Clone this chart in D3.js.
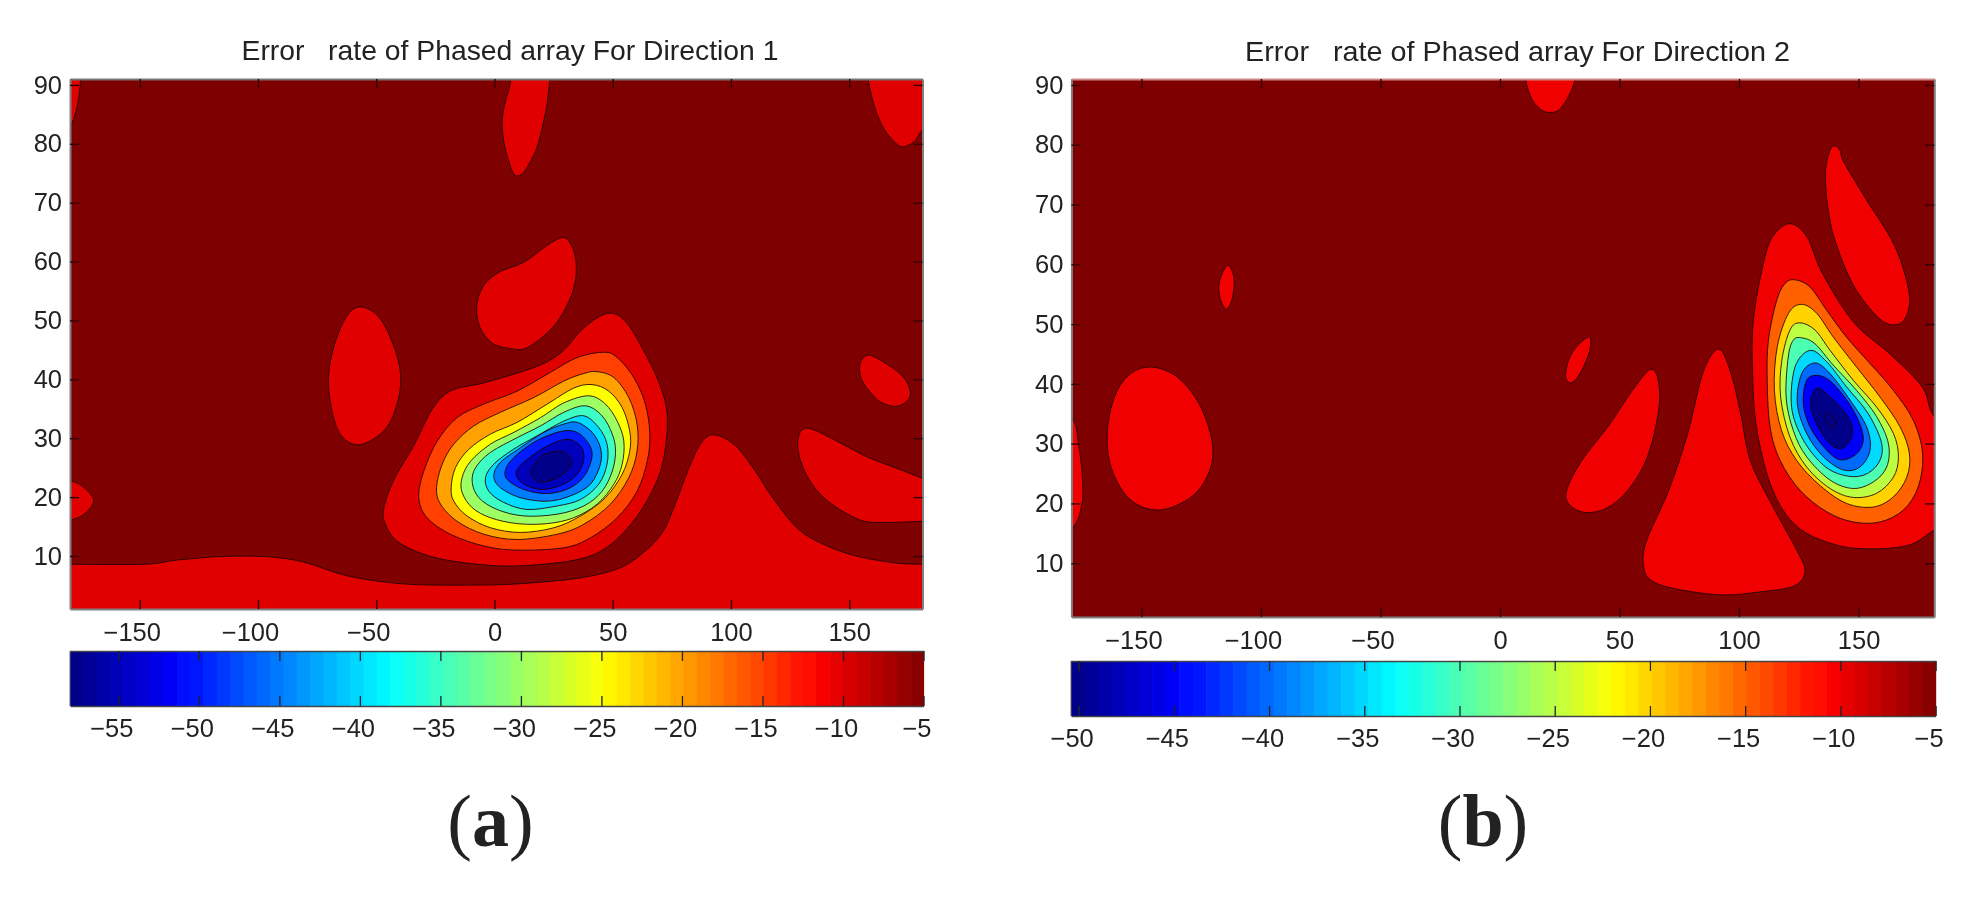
<!DOCTYPE html>
<html><head><meta charset="utf-8">
<script src="https://cdn.jsdelivr.net/npm/d3@7/dist/d3.min.js"></script>
<style>html,body{margin:0;background:#fff}svg{display:block}text{font-family:"Liberation Sans",Arial,sans-serif;fill:#222}</style>
</head><body><svg id="c" width="1972" height="899"></svg>
<script>
const xTicks=[-150,-100,-50,0,50,100,150];
const yTicks=[10,20,30,40,50,60,70,80,90];
const barTicksA=[-55,-50,-45,-40,-35,-30,-25,-20,-15,-10,-5];
const barTicksB=[-50,-45,-40,-35,-30,-25,-20,-15,-10,-5];
const titleA="Error   rate of Phased array For Direction 1";
const titleB="Error   rate of Phased array For Direction 2";
// Panel (a): contour outlines as [azimuth, elevation]
const aBottom=[[-179.4,8.6],[-147.6,8.6],[-134.3,9.3],[-115.6,9.9],[-96.9,9.9],[-80.9,9],[-64.9,6.9],[-48.9,5.7],[-30.2,5.1],[-0.8,5.1],[17.9,5.5],[36.6,6.3],[52.6,7.9],[63.3,10.7],[71.3,14.2],[76.6,19],[83.3,26],[88.6,29.8],[94,30.5],[102,28.7],[110,24.6],[118,19.7],[128.7,14.5],[140.7,11.7],[154,9.9],[170,8.8],[181,8.6],[195,8.6],[195,-15],[-195,-15],[-195,8.6]];
const aTopLeft=[[-175,95],[-175,90.9],[-176.5,86.3],[-179.4,82.8],[-186,78],[-195,78],[-195,95]];
const aTopMid=[[7,95],[6.7,90.4],[4.5,87],[3.2,83.5],[4.5,79.3],[7.7,75.2],[9.9,74.6],[13,75.5],[17.9,79.3],[21,84.2],[22.7,88.4],[22.7,95]];
const aTopRight=[[157,95],[158,90.9],[160.7,86.3],[164.7,82.5],[170,80],[173,79.5],[177.5,80.4],[181,82.5],[190,88],[190,95]];
const aCenter=[[29.9,64],[33.9,61.3],[34.4,57.2],[31.2,53],[24.6,48.8],[13.9,45.4],[7.2,45.2],[-0.8,46.1],[-6.1,48.8],[-7.5,52.3],[-4.8,55.8],[1.9,58.2],[12.5,59.9],[23.2,63]];
const aLeftOval=[[-56.3,52.3],[-48.9,50.6],[-43,46.1],[-39.8,41.2],[-40.8,36.4],[-46.2,31.5],[-56.9,28.9],[-64.9,30.5],[-68.9,35],[-70.2,40.5],[-67.5,46.1],[-62.2,50.9]];
const aSmallRight=[[158,44.1],[164.7,42.9],[172.7,40.5],[175.9,37.7],[173.5,36],[169,35.4],[164,36],[160.7,37],[155.4,39.8],[154.6,42.6]];
const aRightWedge=[[132.7,31.7],[143.4,29.8],[156.7,27],[170,24.9],[181,23.2],[195,21],[195,15.9],[181,15.9],[164.7,15.7],[154,16.2],[140.7,19.4],[132.7,23.2],[128.7,27.3],[128.7,30.5]];
const aLeftEdge=[[-195,24],[-179.4,22.8],[-173,21.4],[-169.5,19.4],[-173,17.3],[-179.4,16.1],[-195,15]];
const aM10=[[47.8,51.2],[55.3,49.9],[63.3,44.7],[69.9,39.1],[73.1,33.6],[71.3,26],[65.9,20.4],[57.9,15.5],[47.3,11.4],[33.9,9.3],[8.5,8.3],[-11.5,8.8],[-27.5,10],[-40.8,12.4],[-46.2,15.5],[-46.7,18.3],[-42.2,23.2],[-34.2,28.7],[-26.2,35],[-18.2,38.1],[-3.5,39.5],[17.9,42.2],[28.6,44.7],[37.9,48.8]];
const aM15=[[46.2,44.6],[51.9,43.7],[58.9,40.3],[63.8,35.8],[65.7,30.7],[64.6,26.1],[60.3,21],[51.9,16.5],[40.6,13.1],[29.3,11.4],[9.6,11],[-4.5,11.7],[-18.6,13.7],[-28.5,16.5],[-32,19.9],[-29.9,24.4],[-24.2,29.5],[-15.8,33.5],[-4.5,35.8],[9.6,38],[23.7,41.2],[35,43.7]];
const aM20=[[43.4,41.3],[50.5,40.3],[56.8,36.9],[60.3,32.4],[60.3,27.8],[56.8,23.3],[49,18.8],[37.8,15.4],[26.5,13.7],[9.6,12.8],[-4.5,13.7],[-15.8,15.9],[-22.8,18.8],[-24.5,21.6],[-22.1,25.6],[-17.2,29],[-8.7,32.1],[2.5,34.4],[16.6,36.9],[29.3,39.7],[37.8,41]];
const aM25=[[41.3,39.1],[48.3,38],[54,35.2],[57.2,31.2],[57.2,27.8],[54,23.9],[46.9,19.9],[36.4,16.8],[25.1,14.8],[11,14],[-1.7,14.8],[-11.6,16.8],[-17.2,19.3],[-18.3,21.6],[-16.5,25],[-10.9,28.1],[-1.7,30.7],[9.6,32.7],[22.3,35.8],[33.5,38.5]];
const aM30=[[39.9,37.2],[46.9,35.8],[51.9,32.9],[54.7,29.5],[54,25.6],[50.5,22.2],[43.4,18.8],[33.5,16.5],[22.3,15.5],[9.6,15.5],[-1.7,16.5],[-9.4,18.2],[-13.7,20.8],[-13.7,23.3],[-10.1,26.1],[-1.7,29],[8.2,31],[19.5,33.5],[29.3,36]];
const aM35=[[38.5,35.5],[45.5,33.8],[49.8,30.7],[51.2,27.8],[49.8,24.4],[45.5,21],[37.8,18.5],[26.5,17.1],[12.4,16.8],[1.1,17.9],[-6.6,19.9],[-9.4,22.5],[-8,25],[-1.7,27.6],[9.6,30.1],[19.5,32.1],[29.3,34.4]];
const aM40=[[37.8,33.8],[44.1,31.8],[47.6,29],[47.6,25.6],[44.1,22.2],[36.4,19.6],[26.5,18.5],[13.8,17.9],[3.9,19.1],[-2.4,21],[-3.8,23.3],[-0.3,25.6],[7.9,28.1],[18,30.4],[29.3,32.9]];
const aM45=[[35,32.7],[41.3,31],[44.8,28.4],[44.8,25.6],[40.6,22.2],[32.1,20.2],[22.3,19.3],[11,19.9],[2.5,21.6],[-0.3,23.6],[2.5,25.9],[11,28.4],[20.9,31],[29.3,32.4]];
const aM50=[[33.5,31.2],[38.5,29.8],[41.3,27.3],[38.5,23.9],[32.1,21.6],[22.3,20.6],[12.4,21.3],[5.4,23],[4.7,24.7],[8.2,26.7],[16.6,29.3],[26.5,31]];
const aM55=[[30.7,29.8],[36.4,28.7],[37.8,26.4],[35,23.9],[29.3,22.2],[20.9,21.3],[13.8,21.9],[9.6,23.3],[9.6,24.7],[13.8,26.4],[22.3,28.7]];
const aM57=[[29.3,27.7],[32.4,26.4],[31.9,25],[26.5,23.3],[19.5,22.5],[15.9,23.6],[15.9,25],[20.2,27],[25.1,27.7]];
// Panel (b)
const bTop=[[10,95],[10.7,91],[13.1,87.8],[17,85.9],[21,85.4],[24.9,85.9],[28.8,88.2],[31.4,91],[32,95]];
const bSliver=[[-114,59.8],[-111.3,57.8],[-111.9,54.4],[-114.5,52.5],[-117.1,54.4],[-117.4,57.1]];
const bLeftOval=[[-145.4,42.8],[-134.9,41.1],[-125.8,36.6],[-120.5,30.5],[-121.3,25.7],[-128.4,21.3],[-142.3,18.9],[-154.6,20.6],[-162.4,25.7],[-164.3,31.8],[-161.1,38],[-154.6,41.7]];
const bLeftEdge=[[-195,40],[-179.5,34.6],[-176.3,29.8],[-174.7,24.3],[-175,19.6],[-179.5,15.5],[-195,10]];
const bSmall=[[37.5,47.8],[37.5,45.5],[34,42.1],[30.1,40.2],[27.5,41.1],[28.8,44.1],[32.7,46.5]];
const bMid=[[62.9,42.4],[66.3,40.4],[66.3,35.3],[61.6,27.7],[53.7,22.3],[44.5,19.2],[35.4,18.5],[28.8,19.9],[28,22.3],[34.1,27.1],[45.8,33.2],[55,38.7]];
const bTriangle=[[91.7,45.8],[96.9,41.4],[100.9,34.6],[104.8,27.1],[114,19.6],[124.4,12],[127.6,8.6],[123.1,6.2],[108.7,5.2],[93,4.7],[74.7,5.6],[64.2,6.9],[60.3,9],[61,13.4],[70.7,22.3],[78.6,31.8],[85.1,42.1]];
const bUpperRight=[[140.2,79.8],[142.3,79],[144,77],[153.3,70.8],[165,63.2],[171,55.7],[170.3,51.6],[165.8,49.9],[158.5,51],[148,56.4],[140.2,63.9],[137,70],[136.2,75.5],[138,79]];
const bM10=[[121.3,66.8],[128.4,64.6],[134.9,58.5],[148,50.3],[163.7,44.8],[176.8,39.4],[181.6,34.6],[195,30],[195,18],[181.6,15.5],[171.6,13.1],[155.9,12.4],[140.2,13.1],[124.4,16.1],[114,22.3],[107.4,32.5],[105.6,42.8],[106.1,51],[110,59.8],[114,64.6]];
const bM15=[[123.4,57.4],[129.7,56.2],[136.7,52.3],[145,47.8],[154.8,43.4],[164.6,38.9],[172.9,33.9],[176.8,28.3],[175,22.8],[168.8,18.9],[159,16.9],[147.8,16.9],[136.7,18.6],[125.5,22.2],[117.2,27.2],[113,32.8],[111.8,40.6],[112.3,47.3],[115.8,54],[119.3,56.8]];
const bM20=[[126.2,53.3],[132.5,51.8],[139.5,47.8],[149.2,42.8],[159,37.8],[167.4,32.8],[171.3,28.3],[170.2,24.4],[164.6,21.1],[156.2,19.4],[145,20],[133.9,23],[124.1,27.2],[117.8,32.2],[114.8,38.9],[116,46.2],[120.7,51.8]];
const bM25=[[125.5,50.2],[131.8,49],[138.1,45.6],[147.8,40.6],[157.6,36.1],[164.6,31.7],[166.7,27.8],[164.6,24.4],[157.6,21.7],[147.8,21],[138.1,22.5],[128.3,26.1],[121.3,31.1],[117.4,37.8],[117.9,43.9],[121.3,49]];
const bM30=[[126.2,47.7],[131.8,46.7],[139.5,43.1],[149.2,38.9],[157.6,34.5],[162.5,30],[161.8,26.1],[156.2,23.6],[147.8,22.5],[138.1,23.9],[128.3,27.8],[122.7,32.2],[119.7,37.8],[120.6,44.5],[122.7,47.3]];
const bM35=[[129.7,45.6],[136.7,43.7],[145,39.5],[154.1,35],[159.7,30],[158.3,26.7],[152,24.7],[143.7,24.7],[135.3,26.4],[126.9,30.6],[122,36.1],[123.4,42.8]];
const bM40=[[131.8,43.5],[138.1,41.7],[146.4,37.3],[153.4,32.8],[154.8,28.9],[150.6,26.1],[143.7,25.6],[135.3,27.8],[128.3,31.7],[124.4,36.7],[126.2,41.7]];
const bM45=[[133.2,41.4],[139.5,40],[147.8,35.6],[152,31.1],[149.2,28.3],[142.3,27.3],[136,29.2],[129.7,32.8],[126.9,36.7],[128.3,40.6]];
const bM50=[[133.9,39.2],[139.5,37.3],[145.7,34.5],[147.5,31.7],[144.4,29.5],[139.5,29.5],[133.9,32.2],[130,36.1],[131.1,38.7]];
const bInner=[[137.4,35.2],[140.2,34],[140.2,32.9],[138.4,32.8],[136.3,34.2]];

const contoursA=[[-10,aBottom],[-10,aTopLeft],[-10,aTopMid],[-10,aTopRight],[-10,aCenter],[-10,aLeftOval],[-10,aSmallRight],[-10,aRightWedge],[-10,aLeftEdge],[-10,aM10],[-15,aM15],[-20,aM20],[-25,aM25],[-30,aM30],[-35,aM35],[-40,aM40],[-45,aM45],[-50,aM50],[-55,aM55],[-57.5,aM57]];
const contoursB=[[-10,bTop],[-10,bSliver],[-10,bLeftOval],[-10,bLeftEdge],[-10,bSmall],[-10,bMid],[-10,bTriangle],[-10,bUpperRight],[-10,bM10],[-15,bM15],[-20,bM20],[-25,bM25],[-30,bM30],[-35,bM35],[-40,bM40],[-45,bM45],[-50,bM50],[-50,bInner]];

const jet=d3.scaleLinear().domain([0,.125,.375,.625,.875,1]).range(['#000080','#0000ff','#00ffff','#ffff00','#ff0000','#800000']);
const svg=d3.select('#c');
const defs=svg.append('defs');
defs.append('filter').attr('id','soft').attr('x','-5%').attr('y','-5%').attr('width','110%').attr('height','110%').append('feGaussianBlur').attr('stdDeviation',0.6);
const fmt=d=>String(d).replace('-','\u2212');
const FS='25.5px';

function panel(o){
  const x=d3.scaleLinear().domain(o.xDom).range([o.l,o.r]);
  const y=d3.scaleLinear().domain([1,91]).range([o.b,o.t]);
  const c=d=>jet((d-o.barMin)/(-5-o.barMin));
  const g=svg.append('g').attr('filter','url(#soft)');
  defs.append('clipPath').attr('id',o.id).append('rect').attr('x',o.l).attr('y',o.t).attr('width',o.r-o.l).attr('height',o.b-o.t);
  const plot=g.append('g').attr('clip-path',`url(#${o.id})`);
  plot.append('rect').attr('x',o.l).attr('y',o.t).attr('width',o.r-o.l).attr('height',o.b-o.t).attr('fill','#7f0000');
  const line=d3.line().x(d=>x(d[0])).y(d=>y(d[1])).curve(d3.curveCatmullRomClosed.alpha(0));
  plot.selectAll('path').data(o.contours).join('path').attr('d',d=>line(d[1])).attr('fill',d=>c(d[0])).attr('stroke','#200000').attr('stroke-opacity',.85).attr('stroke-width',1);
  // axes
  const style=s=>{s.selectAll('.domain').attr('stroke','#808080').attr('stroke-width',2);s.selectAll('.tick line').attr('stroke','#300').attr('stroke-width',1.4);s.selectAll('text').style('font-size',FS).attr('fill','#222');};
  g.append('g').attr('transform',`translate(0,${o.b})`).call(d3.axisBottom(x).tickValues(xTicks).tickSize(-9).tickSizeOuter(0).tickPadding(14).tickFormat(fmt)).call(style)
    .selectAll('text').attr('dx',d=>d<0?-8:0);
  g.append('g').attr('transform',`translate(0,${o.t})`).call(d3.axisTop(x).tickValues(xTicks).tickSize(-9).tickSizeOuter(0).tickFormat('')).call(style)
    .selectAll('.domain').attr('stroke',o.topLine);
  g.append('g').attr('transform',`translate(${o.l},0)`).call(d3.axisLeft(y).tickValues(yTicks).tickSize(-9).tickSizeOuter(0).tickPadding(8).tickFormat(d3.format('d'))).call(style);
  g.append('g').attr('transform',`translate(${o.r},0)`).call(d3.axisRight(y).tickValues(yTicks).tickSize(-9).tickSizeOuter(0).tickFormat('')).call(style);
  g.append('text').attr('x',o.titleX).attr('y',o.titleY).attr('text-anchor','middle').attr('textLength',o.titleW).attr('lengthAdjust','spacingAndGlyphs').style('font-size','28px').style('white-space','pre').attr('xml:space','preserve').text(o.title);
  // colour bar
  const cx=d3.scaleLinear().domain([o.barMin,-5]).range([o.barL,o.barR]);
  const bands=d3.range(64);
  const band=d3.scaleBand().domain(bands).range([o.barL,o.barR]);
  g.append('g').selectAll('rect').data(bands).join('rect').attr('x',d=>band(d)).attr('y',o.barT).attr('width',band.bandwidth()+.6).attr('height',o.barB-o.barT).attr('fill',d=>jet((d+.5)/64));
  const barStyle=s=>{s.selectAll('.domain').attr('stroke','#444').attr('stroke-width',1.5);s.selectAll('.tick line').attr('stroke','#222').attr('stroke-width',1.3);s.selectAll('text').style('font-size',FS).attr('fill','#222');};
  g.append('g').attr('transform',`translate(0,${o.barB})`).call(d3.axisBottom(cx).tickValues(o.barTicks).tickSize(-10).tickSizeOuter(0).tickPadding(13).tickFormat(fmt)).call(barStyle)
    .selectAll('text').attr('dx',-7);
  g.append('g').attr('transform',`translate(0,${o.barT})`).call(d3.axisTop(cx).tickValues(o.barTicks).tickSize(-10).tickSizeOuter(0).tickFormat('')).call(barStyle);
  g.append('path').attr('d',`M${o.barL},${o.barT}V${o.barB}`).attr('stroke','#666').attr('fill','none');
  // sub-caption
  const cap=g.append('text').attr('x',o.capX).attr('y',846).attr('text-anchor','middle').style('font-family','"Liberation Serif",serif').style('font-size','74px').attr('fill','#000');
  cap.append('tspan').text('(');
  cap.append('tspan').style('font-weight','bold').text(o.cap);
  cap.append('tspan').text(')');
}
panel({id:'pa',xDom:[-179.5,181],l:70,r:922.5,t:79,b:609,topLine:'#777',contours:contoursA,barMin:-58,barTicks:barTicksA,barL:70,barR:923.5,barT:651,barB:706,title:titleA,titleX:510,titleY:60,titleW:537,cap:'a',capX:490.5});
panel({id:'pb',xDom:[-179.3,181.7],l:1071.4,r:1934.3,t:79,b:617,topLine:'#c88',contours:contoursB,barMin:-50.4,barTicks:barTicksB,barL:1071,barR:1935.6,barT:661,barB:716,title:titleB,titleX:1517.6,titleY:61,titleW:545,cap:'b',capX:1483});
</script></body></html>
